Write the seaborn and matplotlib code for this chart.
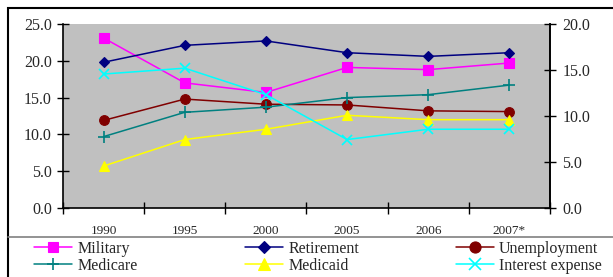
import matplotlib
matplotlib.use("Agg")
import matplotlib.pyplot as plt
import seaborn as sns
import pandas as pd
import numpy as np
from matplotlib.lines import Line2D
from matplotlib.patches import Rectangle

sns.set_theme(style="white")
plt.rcParams['font.family'] = ['Liberation Serif', 'DejaVu Serif']

years = ["1990", "1995", "2000", "2005", "2006", "2007*"]
military = [23.1, 17.0, 15.7, 19.1, 18.8, 19.7]
retirement = [19.8, 22.1, 22.7, 21.1, 20.6, 21.1]
unemployment = [11.9, 14.8, 14.1, 14.0, 13.2, 13.1]
medicare = [9.7, 13.0, 13.7, 15.0, 15.4, 16.7]
medicaid = [5.7, 9.3, 10.7, 12.6, 12.0, 12.0]
interest = [18.2, 19.0, 15.4, 9.3, 10.7, 10.7]

series_names = ["Military", "Retirement", "Unemployment", "Medicare", "Medicaid", "Interest expense"]
series_vals = [military, retirement, unemployment, medicare, medicaid, interest]
colors = ["#FF00FF", "#000080", "#800000", "#008080", "#FFFF00", "#00FFFF"]
markers = ["s", "D", "o", "+", "^", "x"]
msizes = [6.5, 5.5, 7, 8, 7.5, 7.5]

rows = []
for name, vals in zip(series_names, series_vals):
    for i, v in enumerate(vals):
        rows.append({"series": name, "idx": i, "value": v})
df = pd.DataFrame(rows)

W, H = 613, 277
fig = plt.figure(figsize=(W / 100, H / 100), dpi=100)

# outer frame
fig.patches.append(Rectangle((8 / W, -0.1), 1.2, (H - 8) / H + 0.1, transform=fig.transFigure,
                             fill=False, edgecolor="black", linewidth=1.5, zorder=0))
fig.lines.append(Line2D([8 / W, 1.0], [(H - 237) / H, (H - 237) / H], transform=fig.transFigure,
                        color="#808080", linewidth=1.2))

ax = fig.add_axes([63 / W, (H - 208) / H, 487 / W, 184 / H])
ax.set_facecolor("#C0C0C0")

for name, c, m, ms in zip(series_names, colors, markers, msizes):
    sub = df[df["series"] == name]
    sns.lineplot(data=sub, x="idx", y="value", ax=ax, color=c, marker=m, markersize=ms,
                 linewidth=1.1, markeredgecolor=c, markeredgewidth=1.2 if m in "+x" else 0.8,
                 legend=False)

ax.set_xlim(-0.5, 5.5)
ax.set_ylim(0, 25)
ax.set_yticks(np.arange(0, 26, 5))
ax.set_yticklabels([f"{v:.1f}" for v in np.arange(0, 26, 5)])
ax.set_xticks(np.arange(-0.5, 6, 1))
ax.set_xticklabels([])
ax.set_xticks(np.arange(6), minor=True)
ax.set_xticklabels(years, minor=True)
ax.set_xlabel("")
ax.set_ylabel("")
for s in ["top"]:
    ax.spines[s].set_visible(False)
for s in ["left", "bottom", "right"]:
    ax.spines[s].set_color("black")
    ax.spines[s].set_linewidth(1.2)
ax.tick_params(axis="y", which="major", direction="inout", length=8, width=1, color="black",
               labelsize=11.5, pad=4, left=True)
ax.tick_params(axis="x", which="major", direction="inout", length=8, width=1, color="black", bottom=True)
ax.tick_params(axis="x", which="minor", length=0, labelsize=9.5, pad=12)

ax2 = ax.twinx()
ax2.set_ylim(0, 20)
ax2.set_yticks(np.arange(0, 21, 5))
ax2.set_yticklabels([f"{v:.1f}" for v in np.arange(0, 21, 5)])
for s in ["top", "left", "bottom"]:
    ax2.spines[s].set_visible(False)
ax2.spines["right"].set_color("black")
ax2.spines["right"].set_linewidth(1.2)
ax2.tick_params(axis="y", direction="inout", length=8, width=1, color="black", labelsize=11.5, pad=5, right=True)
ax2.grid(False)
ax.grid(False)

# legend: three columns
col_x = [34 / W, 245 / W, 456 / W]
for col in range(3):
    handles = []
    labels = []
    for r in range(2):
        k = r * 3 + col
        handles.append(Line2D([], [], color=colors[k], marker=markers[k], markersize=msizes[k] + 1,
                              markeredgecolor=colors[k], markeredgewidth=1.2 if markers[k] in "+x" else 0.8,
                              linewidth=1.1))
        labels.append(series_names[k])
    fig.legend(handles, labels, loc="upper left", bbox_to_anchor=(col_x[col], (H - 241) / H),
               frameon=False, fontsize=11.5, handlelength=2.4, handletextpad=0.3,
               labelspacing=0.05, borderpad=0, borderaxespad=0)

fig.savefig("out.png", dpi=100, facecolor="white")
